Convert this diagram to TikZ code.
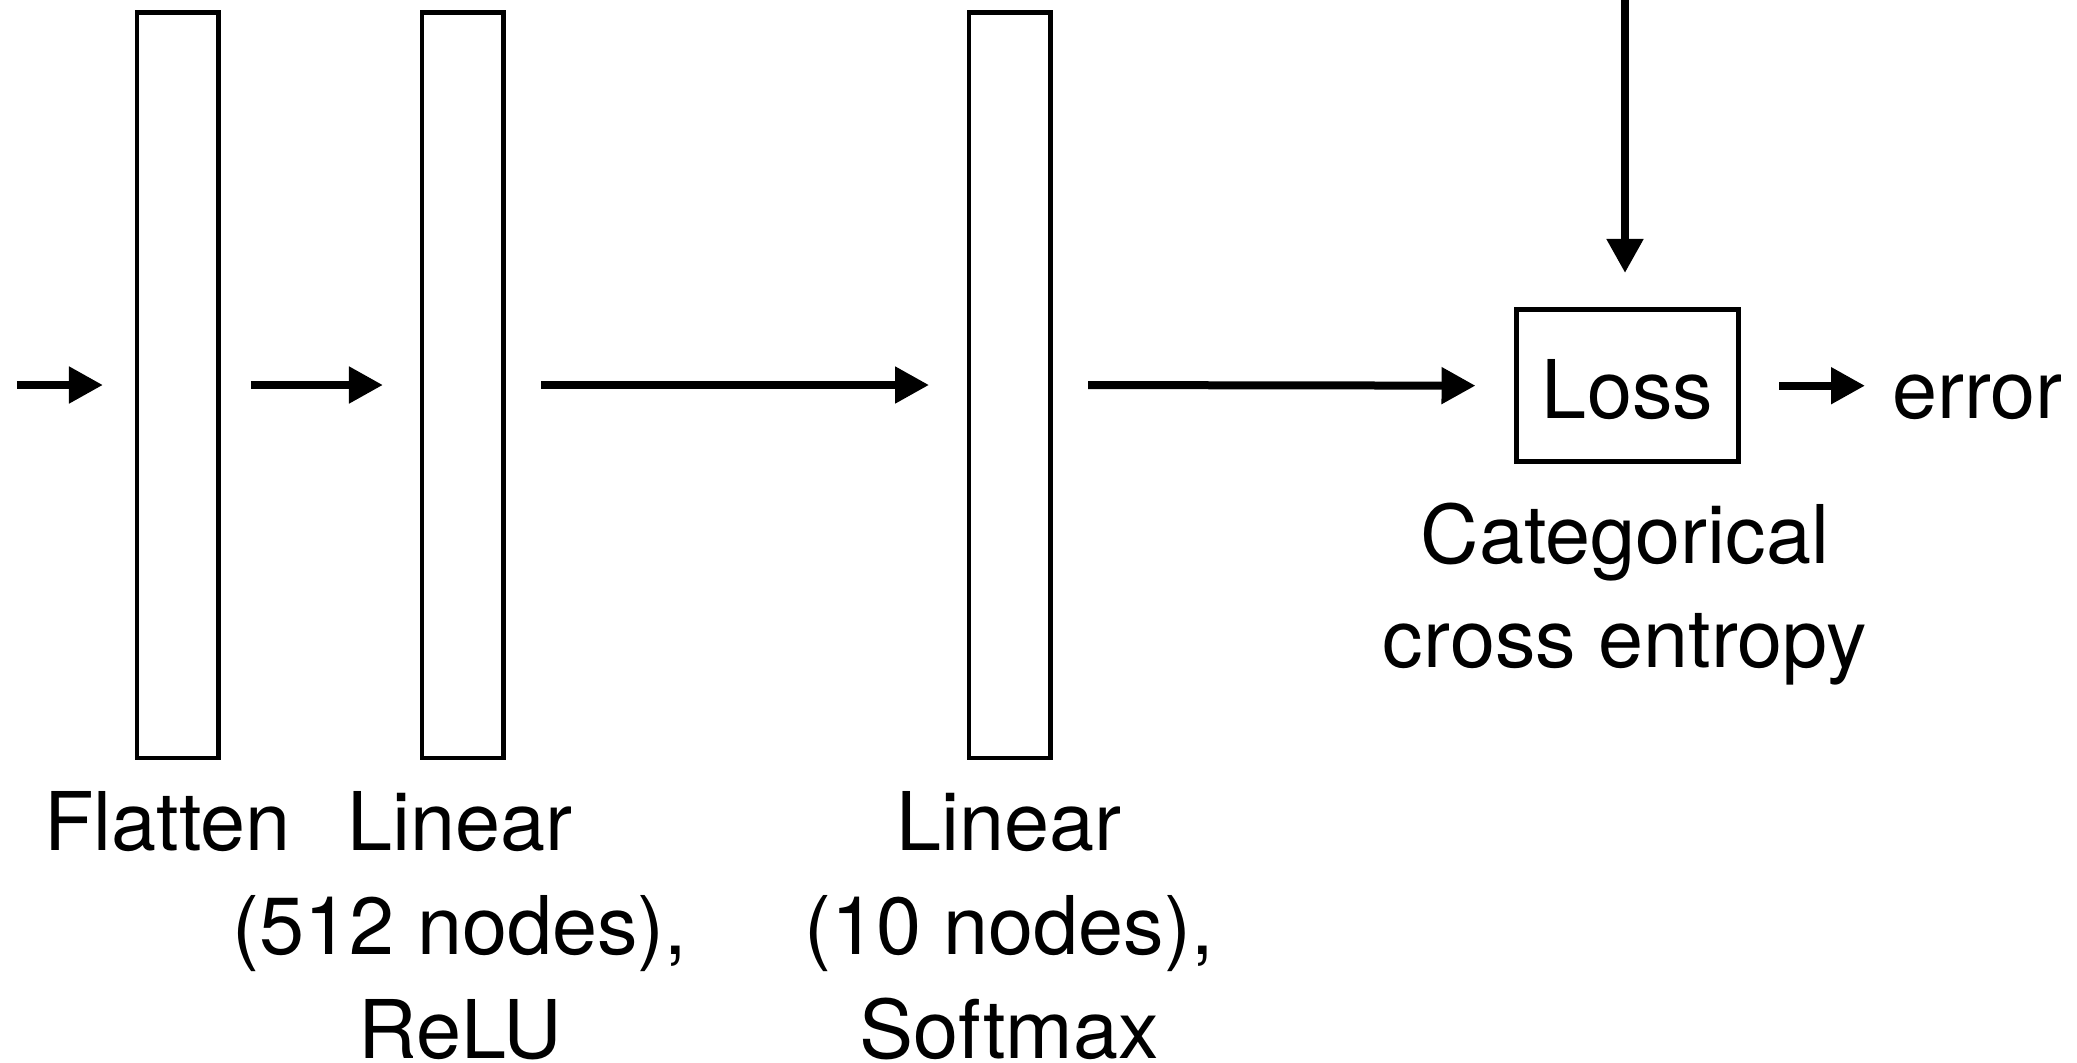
\documentclass[tikz,border=0pt]{standalone}
\usepackage{fontspec}
\setmainfont{TeX Gyre Heros}
\usetikzlibrary{arrows.meta}
\begin{document}
\begin{tikzpicture}[x=0.5pt,y=-0.5pt,
  layer/.style={draw, line width=2.25pt, minimum width=40.75pt, minimum height=372.75pt, inner sep=0pt, outer sep=0pt},
  flow/.style={line width=4pt, -{Triangle[length=17pt,width=17.5pt]}},
  lbl/.style={inner sep=0pt, outer sep=0pt, font=\fontsize{40.5pt}{52pt}\selectfont, align=center},
]
\useasboundingbox (0,0) rectangle (2077,1062);
\node[layer] (r1) at (177.7,385) {};
\node[layer] (r2) at (462.7,385) {};
\node[layer] (r3) at (1009.8,385) {};
\node[lbl, draw, line width=2.5pt, minimum width=111pt, minimum height=76.25pt, text height=33pt, text depth=0pt] (loss) at (1627.5,385.7) {Loss};
\node[lbl, anchor=base west] (err) at (1892,418.5) {error};
\node[lbl, anchor=base] (flat) at (167.6,850) {Flatten};
\node[lbl, anchor=base] (lin1) at (460,1058) {Linear\\(512 nodes),\\ReLU};
\node[lbl, anchor=base] (lin2) at (1009,1058) {Linear\\(10 nodes),\\Softmax};
\node[lbl, anchor=base] (cce) at (1625,667) {Categorical\\cross entropy};
\coordinate (in) at (16.8,385);
\coordinate (top) at (1625,0);
\draw[flow, shorten >=17pt] (in) -- (r1.west);
\draw[flow, shorten <=16.25pt, shorten >=19.5pt] (r1.east) -- (r2.west);
\draw[flow, shorten <=19pt, shorten >=20pt] (r2.east) -- (r3.west);
\draw[flow, shorten <=18.75pt, shorten >=20.5pt] (r3.east) -- (loss.west);
\draw[flow, shorten <=20.25pt, shorten >=13.5pt] (loss.east) -- (loss.east -| err.west);
\draw[flow, shorten >=18.25pt] (top) -- (top |- loss.north);
\end{tikzpicture}
\end{document}
